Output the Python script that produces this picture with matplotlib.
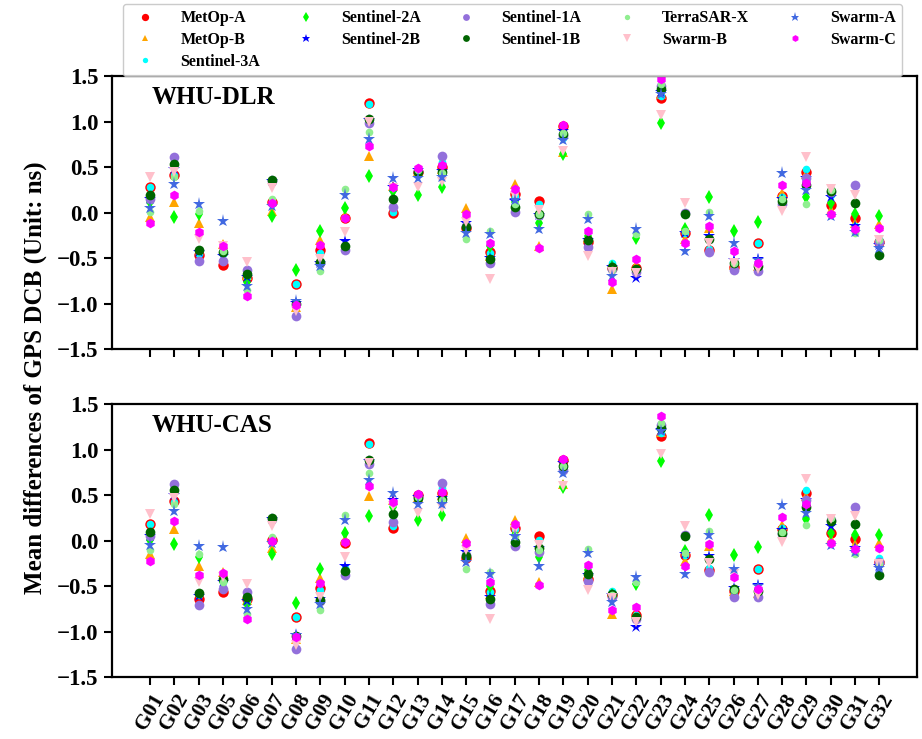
import matplotlib
matplotlib.use("Agg")
import matplotlib.pyplot as plt
import numpy as np

plt.rcParams['font.family'] = ['Liberation Serif', 'DejaVu Serif']
plt.rcParams['font.weight'] = 'bold'

prns = ['G01', 'G02', 'G03', 'G05', 'G06', 'G07', 'G08', 'G09', 'G10', 'G11', 'G12',
        'G13', 'G14', 'G15', 'G16', 'G17', 'G18', 'G19', 'G20', 'G21', 'G22', 'G23',
        'G24', 'G25', 'G26', 'G27', 'G28', 'G29', 'G30', 'G31', 'G32']

series_names = ['MetOp-A', 'MetOp-B', 'Sentinel-3A', 'Sentinel-2A', 'Sentinel-2B',
                'Sentinel-1A', 'Sentinel-1B', 'TerraSAR-X', 'Swarm-B', 'Swarm-A', 'Swarm-C']

ytick_values = [-1.5, -1.0, -0.5, 0.0, 0.5, 1.0, 1.5]
ytick_labels = ['\u22121.5', '\u22121.0', '\u22120.5', '0.0', '0.5', '1.0', '1.5']

# ---- WHU-DLR (top panel) ----
dlr_metop_a = [0.285, 0.414, -0.465, -0.575, -0.72, 0.12, -0.78, -0.41, -0.06, 1.207, -0.007,
               0.45, 0.50, -0.17, -0.43, 0.21, 0.128, 0.95, -0.32, -0.61, -0.61, 1.263,
               -0.22, -0.41, -0.60, -0.336, 0.18, 0.45, 0.09, -0.06, -0.32]
dlr_metop_b = [-0.044, 0.114, -0.109, -0.34, -0.68, 0.022, -1.03, -0.30, -0.02, 0.626, 0.29,
               0.46, 0.48, 0.048, -0.47, 0.315, -0.36, 0.67, -0.28, -0.84, -0.57, 1.30,
               -0.29, -0.17, -0.57, -0.58, 0.213, 0.43, 0.03, -0.11, -0.128]
dlr_sentinel_3a = [0.28, 0.41, -0.45, -0.45, -0.70, 0.10, -0.78, -0.44, -0.35, 1.20, 0.011,
                   0.46, 0.56, -0.13, -0.44, 0.19, 0.092, 0.82, -0.30, -0.557, -0.62, 1.28,
                   -0.22, -0.40, -0.57, -0.336, 0.17, 0.48, 0.20, -0.15, -0.29]
dlr_sentinel_2a = [0.12, -0.05, -0.01, -0.45, -0.76, -0.036, -0.63, -0.195, 0.048, 0.406, 0.24,
                   0.195, 0.28, -0.15, -0.37, 0.12, -0.109, 0.65, -0.26, -0.60, -0.277, 0.99,
                   -0.173, 0.176, -0.195, -0.099, 0.13, 0.176, 0.103, -0.017, -0.036]
dlr_sentinel_2b = [0.15, 0.48, -0.43, -0.47, -0.70, 0.35, -0.99, -0.55, -0.31, 1.02, 0.28,
                   0.47, 0.46, -0.117, -0.50, 0.13, -0.02, 0.90, -0.30, -0.60, -0.717, 1.33,
                   -0.22, -0.26, -0.519, -0.51, 0.15, 0.38, 0.176, -0.15, -0.35]
dlr_sentinel_1a = [0.147, 0.615, -0.53, -0.53, -0.63, 0.35, -1.13, -0.55, -0.41, 0.99, 0.066,
                   0.46, 0.626, -0.15, -0.547, 0.011, -0.025, 0.84, -0.373, -0.62, -0.65, 1.39,
                   0.0, -0.435, -0.63, -0.637, 0.092, 0.38, 0.23, 0.30, -0.32]
dlr_sentinel_1b = [0.195, 0.54, -0.41, -0.43, -0.67, 0.365, -1.00, -0.54, -0.366, 1.03, 0.15,
                   0.45, 0.45, -0.154, -0.51, 0.066, -0.01, 0.87, -0.30, -0.60, -0.617, 1.355,
                   -0.014, -0.29, -0.547, -0.58, 0.128, 0.30, 0.24, 0.103, -0.465]
dlr_terrasar_x = [0.01, 0.395, 0.019, -0.42, -0.85, 0.147, -1.03, -0.64, 0.256, 0.889, 0.28,
                  0.47, 0.44, -0.289, -0.20, 0.10, -0.01, 0.877, -0.014, -0.63, -0.23, 1.41,
                  -0.20, 0.011, -0.55, -0.55, 0.15, 0.10, 0.25, -0.22, -0.30]
dlr_swarm_b = [0.395, 0.45, -0.29, -0.36, -0.54, 0.27, -1.08, -0.51, -0.216, 1.00, 0.27,
               0.28, 0.34, -0.10, -0.73, 0.18, 0.03, 0.682, -0.475, -0.65, -0.66, 1.073,
               0.11, -0.336, -0.55, -0.62, 0.022, 0.615, 0.256, 0.20, -0.30]
dlr_swarm_a = [0.052, 0.315, 0.095, -0.088, -0.805, 0.08, -0.966, -0.58, 0.195, 0.81, 0.38,
               0.384, 0.395, -0.22, -0.237, 0.136, -0.182, 0.80, -0.069, -0.69, -0.18, 1.31,
               -0.417, -0.033, -0.33, -0.52, 0.442, 0.245, -0.04, -0.21, -0.39]
dlr_swarm_c = [-0.117, 0.195, -0.21, -0.37, -0.915, 0.103, -1.01, -0.35, -0.055, 0.735, 0.285,
               0.494, 0.524, -0.014, -0.33, 0.256, -0.39, 0.96, -0.195, -0.764, -0.513, 1.475,
               -0.336, -0.15, -0.417, -0.547, 0.30, 0.33, -0.014, -0.173, -0.17]

# ---- WHU-CAS (bottom panel) ----
cas_metop_a = [0.187, 0.44, -0.637, -0.564, -0.64, 0.01, -0.839, -0.52, -0.03, 1.073, 0.139,
               0.50, 0.52, -0.19, -0.557, 0.14, 0.047, 0.89, -0.42, -0.60, -0.82, 1.154,
               -0.161, -0.32, -0.557, -0.308, 0.132, 0.53, 0.09, 0.018, -0.23]
cas_metop_b = [-0.146, 0.132, -0.275, -0.34, -0.65, -0.081, -1.08, -0.41, 0.02, 0.487, 0.45,
               0.48, 0.50, 0.03, -0.59, 0.231, -0.45, 0.62, -0.38, -0.81, -0.79, 1.20,
               -0.227, -0.06, -0.55, -0.57, 0.176, 0.49, 0.018, -0.04, -0.026]
cas_sentinel_3a = [0.18, 0.43, -0.60, -0.45, -0.65, 0.0, -0.839, -0.538, -0.30, 1.06, 0.165,
                   0.48, 0.58, -0.15, -0.565, 0.13, 0.003, 0.77, -0.38, -0.549, -0.82, 1.18,
                   -0.16, -0.30, -0.55, -0.308, 0.14, 0.553, 0.20, -0.08, -0.19]
cas_sentinel_2a = [0.01, -0.036, -0.18, -0.45, -0.69, -0.146, -0.685, -0.308, 0.084, 0.267, 0.375,
                   0.223, 0.286, -0.15, -0.50, 0.06, -0.183, 0.59, -0.32, -0.60, -0.48, 0.872,
                   -0.117, 0.278, -0.161, -0.07, 0.10, 0.238, 0.084, 0.066, 0.066]
cas_sentinel_2b = [0.05, 0.50, -0.61, -0.45, -0.66, 0.24, -1.04, -0.64, -0.282, 0.88, 0.45,
                   0.48, 0.47, -0.125, -0.62, 0.05, -0.08, 0.85, -0.38, -0.60, -0.942, 1.22,
                   -0.15, -0.172, -0.52, -0.484, 0.12, 0.45, 0.157, -0.08, -0.28]
cas_sentinel_1a = [0.047, 0.626, -0.703, -0.527, -0.568, 0.24, -1.19, -0.66, -0.381, 0.846, 0.205,
                   0.48, 0.634, -0.16, -0.692, -0.062, -0.124, 0.78, -0.447, -0.62, -0.86, 1.27,
                   0.06, -0.344, -0.619, -0.619, 0.07, 0.451, 0.23, 0.366, -0.23]
cas_sentinel_1b = [0.091, 0.56, -0.575, -0.421, -0.619, 0.249, -1.05, -0.648, -0.33, 0.89, 0.289,
                   0.47, 0.462, -0.165, -0.641, -0.018, -0.08, 0.82, -0.366, -0.586, -0.839, 1.238,
                   0.047, -0.20, -0.53, -0.55, 0.084, 0.366, 0.22, 0.183, -0.381]
cas_terrasar_x = [-0.10, 0.40, -0.146, -0.45, -0.80, 0.036, -1.09, -0.758, 0.286, 0.744, 0.40,
                  0.48, 0.45, -0.308, -0.344, 0.05, -0.10, 0.824, -0.088, -0.60, -0.45, 1.293,
                  -0.13, 0.102, -0.54, -0.55, 0.10, 0.176, 0.25, -0.14, -0.25]
cas_swarm_b = [0.293, 0.469, -0.454, -0.40, -0.476, 0.157, -1.143, -0.619, -0.183, 0.85, 0.38,
               0.304, 0.359, -0.10, -0.861, 0.12, -0.051, 0.604, -0.546, -0.63, -0.898, 0.956,
               0.157, -0.245, -0.37, -0.60, -0.015, 0.678, 0.238, 0.275, -0.25]
cas_swarm_a = [-0.051, 0.33, -0.062, -0.07, -0.751, -0.03, -1.033, -0.692, 0.231, 0.67, 0.524,
               0.407, 0.407, -0.238, -0.367, 0.055, -0.275, 0.744, -0.136, -0.678, -0.399, 1.201,
               -0.366, 0.066, -0.308, -0.50, 0.388, 0.304, -0.05, -0.128, -0.30]
cas_swarm_c = [-0.227, 0.212, -0.374, -0.355, -0.861, -0.007, -1.062, -0.465, -0.018, 0.597, 0.421,
               0.516, 0.535, -0.026, -0.458, 0.183, -0.484, 0.901, -0.264, -0.758, -0.733, 1.366,
               -0.282, -0.036, -0.399, -0.527, 0.256, 0.407, -0.026, -0.091, -0.08]

dlr_data = [dlr_metop_a, dlr_metop_b, dlr_sentinel_3a, dlr_sentinel_2a, dlr_sentinel_2b,
            dlr_sentinel_1a, dlr_sentinel_1b, dlr_terrasar_x, dlr_swarm_b, dlr_swarm_a, dlr_swarm_c]
cas_data = [cas_metop_a, cas_metop_b, cas_sentinel_3a, cas_sentinel_2a, cas_sentinel_2b,
            cas_sentinel_1a, cas_sentinel_1b, cas_terrasar_x, cas_swarm_b, cas_swarm_a, cas_swarm_c]

colors = ['red', 'orange', 'cyan', 'lime', 'blue', 'mediumpurple', 'darkgreen',
          'lightgreen', 'pink', 'royalblue', 'magenta']
markers = ['o', '^', 'o', 'd', '*', 'o', 'o', 'o', 'v', '*', 'h']
msizes = [7.5, 7, 5.5, 7, 9, 7, 7, 5.5, 7.5, 9.5, 7]

fig = plt.figure(figsize=(9.22, 7.39), dpi=100)
ax1 = fig.add_axes([0.1212, 0.5273, 0.8737, 0.3695])
ax2 = fig.add_axes([0.1212, 0.0835, 0.8737, 0.3695])

x = np.arange(len(prns))
handles = []
for ax, data, title in [(ax1, dlr_data, 'WHU-DLR'), (ax2, cas_data, 'WHU-CAS')]:
    for name, vals, c, m, ms in zip(series_names, data, colors, markers, msizes):
        h, = ax.plot(x, vals, linestyle='none', marker=m, color=c, markersize=ms,
                     markeredgewidth=0, label=name)
        if ax is ax1:
            handles.append(h)
    ax.set_xlim(-1.58, 31.56)
    ax.set_ylim(-1.5, 1.5)
    ax.set_yticks(ytick_values)
    ax.set_yticklabels(ytick_labels, fontsize=16.5, fontweight='bold')
    ax.set_xticks(x)
    ax.tick_params(axis='both', direction='out', length=6, width=1.5)
    for sp in ax.spines.values():
        sp.set_linewidth(1.6)
    ax.text(0.05, 0.965, title, transform=ax.transAxes, ha='left', va='top',
            fontsize=18, fontweight='bold')

ax1.set_xticklabels([])
ax2.set_xticklabels(prns, rotation=60, fontsize=15.5, fontweight='bold')

fig.text(0.038, 0.489, 'Mean differences of GPS DCB (Unit: ns)', rotation=90,
         ha='center', va='center', fontsize=18, fontweight='bold')

leg = fig.legend(handles=handles, ncol=5, loc='lower left',
                 bbox_to_anchor=(0.1334, 0.8972, 0.845, 0.096), mode='expand',
                 borderaxespad=0, markerscale=0.7, labelspacing=0.35,
                 handletextpad=1.2, frameon=True, fancybox=True, edgecolor='0.75',
                 prop={'weight': 'bold', 'size': 11.5})

fig.savefig('out.png', dpi=100)
